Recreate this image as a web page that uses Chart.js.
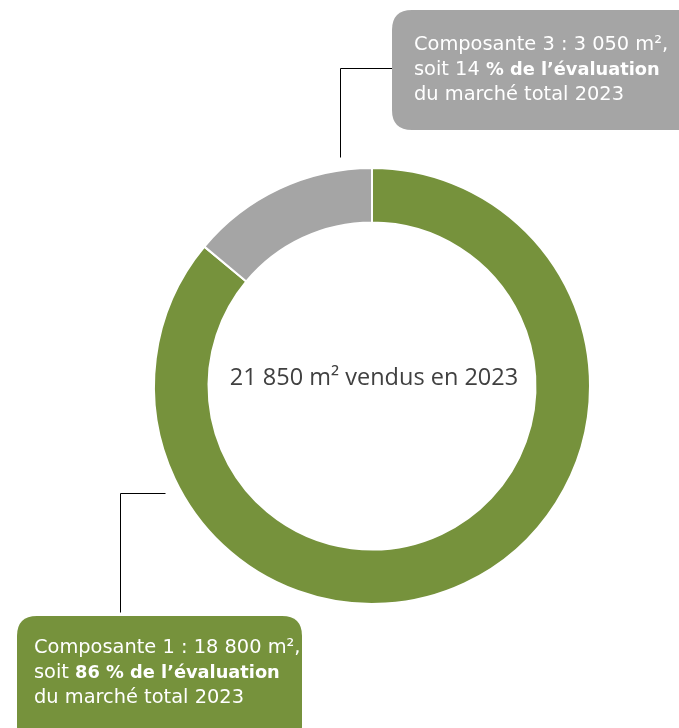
<!DOCTYPE html>
<html>
<head>
<meta charset="utf-8">
<script src="https://cdn.jsdelivr.net/npm/chart.js@4"></script>
<style>
  html, body { margin: 0; padding: 0; background: #fff; }
  #wrap { width: 679px; height: 728px; position: relative; }
</style>
</head>
<body>
<div id="wrap"><canvas id="myChart"></canvas></div>
<script>
const categories = ['Composante 1', 'Composante 3'];
const surfaces = [18800, 3050];
const colors = ['#76923C', '#A5A5A5'];
const centerLabel = '21 850 m² vendus en 2023';

// callout boxes: text runs [text, bold]
const callouts = [
    {
        box: [392, 10, 310, 120], fill: '#A5A5A5',
        lines: [
            [['Composante 3 : 3 050 m²,', false]],
            [['soit 14 ', false], ['% de l’évaluation', true]],
            [['du marché total 2023', false]]
        ],
        textX: 414, textY: 45,
        leader: [[340, 157], [340, 68], [392, 68]]
    },
    {
        box: [17, 616, 285, 130], fill: '#76923C',
        lines: [
            [['Composante 1 : 18 800 m²,', false]],
            [['soit ', false], ['86 % de l’évaluation', true]],
            [['du marché total 2023', false]]
        ],
        textX: 34, textY: 648,
        leader: [[120, 612], [120, 493], [165, 493]]
    }
];

const FONT = '"DejaVu Sans", Verdana, sans-serif';

function roundRect(ctx, x, y, w, h, r) {
    ctx.beginPath();
    ctx.moveTo(x + r, y);
    ctx.lineTo(x + w - r, y);
    ctx.quadraticCurveTo(x + w, y, x + w, y + r);
    ctx.lineTo(x + w, y + h - r);
    ctx.quadraticCurveTo(x + w, y + h, x + w - r, y + h);
    ctx.lineTo(x + r, y + h);
    ctx.quadraticCurveTo(x, y + h, x, y + h - r);
    ctx.lineTo(x, y + r);
    ctx.quadraticCurveTo(x, y, x + r, y);
    ctx.closePath();
}

const annotations = {
    id: 'annotations',
    afterDraw(chart) {
        const ctx = chart.ctx;
        const meta = chart.getDatasetMeta(0).data[0];
        ctx.save();

        // center text
        ctx.fillStyle = '#404040';
        ctx.font = '23.5px "Open Sans", sans-serif';
        ctx.textAlign = 'center';
        ctx.textBaseline = 'middle';
        ctx.fillText(centerLabel, meta.x + 2, meta.y - 8);

        callouts.forEach(c => {
            ctx.strokeStyle = '#000';
            ctx.lineWidth = 1;
            ctx.beginPath();
            c.leader.forEach((p, i) => {
                if (i === 0) ctx.moveTo(p[0] + 0.5, p[1] + 0.5);
                else ctx.lineTo(p[0] + 0.5, p[1] + 0.5);
            });
            ctx.stroke();

            ctx.fillStyle = c.fill;
            roundRect(ctx, c.box[0], c.box[1], c.box[2], c.box[3], 20);
            ctx.fill();

            ctx.fillStyle = '#fff';
            ctx.textAlign = 'left';
            ctx.textBaseline = 'middle';
            c.lines.forEach((runs, li) => {
                let x = c.textX;
                const y = c.textY + li * 25;
                runs.forEach(r => {
                    ctx.font = r[1] ? 'bold 17.8px ' + FONT : '19.4px ' + FONT;
                    ctx.fillText(r[0], x, y);
                    x += ctx.measureText(r[0]).width;
                });
            });
        });
        ctx.restore();
    }
};

new Chart(document.getElementById('myChart'), {
    type: 'doughnut',
    data: {
        labels: categories,
        datasets: [{
            data: surfaces,
            backgroundColor: colors,
            borderColor: '#ffffff',
            borderWidth: 2
        }]
    },
    options: {
        responsive: true,
        maintainAspectRatio: false,
        animation: false,
        cutout: '75%',
        layout: { padding: { left: 153, right: 88, top: 167, bottom: 123 } },
        plugins: {
            legend: { display: false },
            tooltip: { enabled: false }
        }
    },
    plugins: [annotations]
});
</script>
</body>
</html>
